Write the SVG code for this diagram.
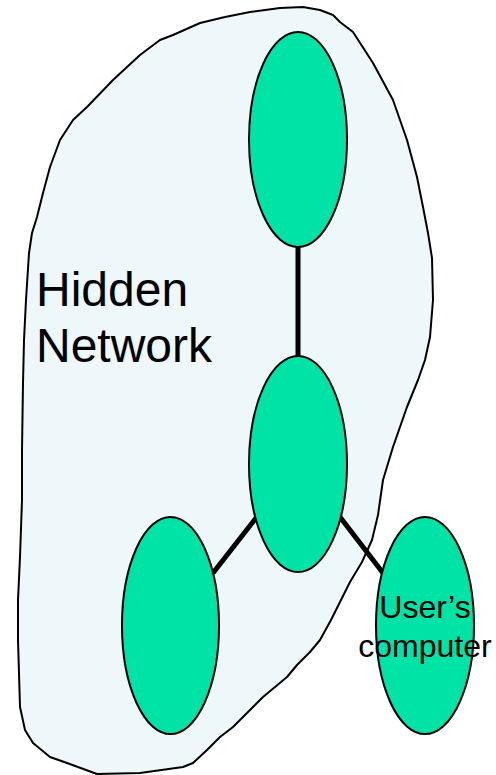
<svg xmlns="http://www.w3.org/2000/svg" width="496" height="775" viewBox="0 0 496 775">
<style>
.node{fill:#00E3A6;stroke:#000;stroke-width:2}
.conn{stroke:#000;stroke-width:5;fill:none}
.lbl{font-family:"Liberation Sans",Arial,sans-serif;fill:#000}
</style>
<g id="hidden-network">
<path d="M303,7 L280,8 L250,12 L225,17 L200,23 L173,35 L160,40 L140,55 L113,80 L87,107 L73,120 L60,140 L50,167 L43,193 L37,217 L32,233 L29,253 L26,300 L24,340 L23,383 L22,450 L22,500 L20,557 L18,600 L18,640 L20,707 L25,730 L33,743 L50,757 L67,763 L97,774 L140,773 L183,767 L193,763 L207,750 L220,737 L233,727 L250,710 L263,697 L287,677 L297,665 L310,652 L320,640 L331,620 L341,600 L350,582 L362,562 L372,540 L378,515 L383,480 L393,447 L407,407 L418,380 L425,360 L430,337 L433,300 L432,258 L428,233 L423,207 L417,177 L407,140 L393,100 L373,63 L353,32 L340,22 L333,15 L320,10 Z" fill="#EEF7F9" stroke="#000" stroke-width="2" stroke-linejoin="round"/>
<text class="lbl" x="36" y="306" font-size="48">Hidden</text>
<text class="lbl" x="36" y="362" font-size="48">Network</text>
</g>
<g id="connectors">
<line class="conn" x1="298" y1="247" x2="298" y2="357"/>
<line class="conn" x1="213" y1="573" x2="256" y2="518"/>
<line class="conn" x1="340" y1="517" x2="383" y2="573"/>
</g>
<g id="node-top"><ellipse class="node" cx="298" cy="139.5" rx="49" ry="107.5"/></g>
<g id="node-middle"><ellipse class="node" cx="298" cy="464" rx="49" ry="108"/></g>
<g id="node-left"><ellipse class="node" cx="170.5" cy="625.5" rx="48.5" ry="108.5"/></g>
<g id="node-user">
<ellipse class="node" cx="425" cy="625.5" rx="49" ry="108.5"/>
<text class="lbl" x="425" y="618" font-size="32" text-anchor="middle">User’s</text>
<text class="lbl" x="425" y="657" font-size="32" text-anchor="middle">computer</text>
</g>
</svg>
